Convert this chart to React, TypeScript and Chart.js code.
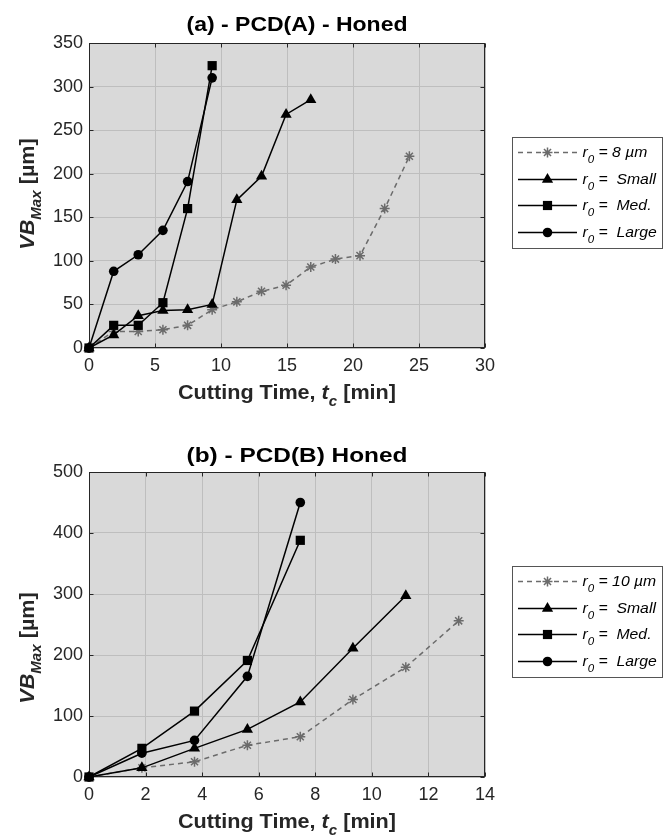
import React, { useEffect, useRef } from 'react';
import { Chart, registerables } from 'chart.js';

Chart.register(...registerables);

// ---------- Data ----------
const timesA = [0, 1.87, 3.73, 5.6, 7.47, 9.33, 11.2, 13.07, 14.93, 16.8, 18.67, 20.53, 22.4, 24.27];
const aR8um = [0, 19, 19, 21, 26, 44, 53, 65, 72, 93, 102, 106, 160, 220];
const aSmall = [0, 15, 37, 43, 44, 50, 170, 197, 268, 285];
const aMed = [0, 26, 26, 52, 160, 324];
const aLarge = [0, 88, 107, 135, 191, 310];

const timesB = [0, 1.87, 3.73, 5.6, 7.47, 9.33, 11.2, 13.07];
const bR10um = [0, 15, 25, 52, 66, 127, 180, 256];
const bSmall = [0, 15, 47, 78, 123, 211, 297];
const bMed = [0, 47, 108, 191, 388];
const bLarge = [0, 39, 60, 165, 450];

const titleA = '(a) - PCD(A) - Honed';
const titleB = '(b) - PCD(B) Honed';
const legendA = ['= 8 µm', '=  Small', '=  Med.', '=  Large'];
const legendB = ['= 10 µm', '=  Small', '=  Med.', '=  Large'];

// ---------- Styles ----------
const FONT = "'Liberation Sans', Arial, Helvetica, sans-serif";
const GRAY = '#6b6b6b';
const AXIS = '#262626';
const BG = '#d9d9d9';
const GRID = 'rgb(190,190,190)';

type Run = { t: string; font: string; dy?: number };

function drawRuns(ctx: CanvasRenderingContext2D, runs: Run[], x: number, y: number, align: 'left' | 'center', sx = 1, color = '#000') {
  let total = 0;
  const widths = runs.map((r) => {
    ctx.font = r.font;
    const w = ctx.measureText(r.t).width;
    total += w;
    return w;
  });
  ctx.save();
  ctx.translate(x, y);
  ctx.scale(sx, 1);
  ctx.fillStyle = color;
  ctx.textAlign = 'left';
  ctx.textBaseline = 'alphabetic';
  let cx = align === 'center' ? -total / 2 : 0;
  runs.forEach((r, i) => {
    ctx.font = r.font;
    ctx.fillText(r.t, cx, r.dy || 0);
    cx += widths[i];
  });
  ctx.restore();
}

function drawMarker(ctx: CanvasRenderingContext2D, style: string, x: number, y: number, color: string) {
  ctx.save();
  ctx.fillStyle = color;
  ctx.strokeStyle = color;
  ctx.setLineDash([]);
  ctx.beginPath();
  if (style === 'triangle') {
    const r = 6.5;
    for (let k = 0; k < 3; k++) {
      const a = (k * 2 * Math.PI) / 3;
      const px = x + Math.sin(a) * r;
      const py = y - Math.cos(a) * r;
      if (k === 0) ctx.moveTo(px, py);
      else ctx.lineTo(px, py);
    }
    ctx.closePath();
    ctx.fill();
  } else if (style === 'rect') {
    const s = Math.SQRT1_2 * 6.5;
    ctx.rect(x - s, y - s, 2 * s, 2 * s);
    ctx.fill();
  } else if (style === 'circle') {
    ctx.arc(x, y, 4.8, 0, Math.PI * 2);
    ctx.fill();
  } else if (style === 'star') {
    const r = 5;
    ctx.lineWidth = 1.5;
    for (let k = 0; k < 4; k++) {
      const a = (k * Math.PI) / 4;
      ctx.moveTo(x - Math.cos(a) * r, y - Math.sin(a) * r);
      ctx.lineTo(x + Math.cos(a) * r, y + Math.sin(a) * r);
    }
    ctx.stroke();
  }
  ctx.restore();
}

type PanelSpec = {
  times: number[];
  series: number[][];
  xMax: number;
  xStep: number;
  yMax: number;
  yStep: number;
  title: string;
  titleX: number;
  titleY: number;
  titleSx: number;
  xTitleY: number;
  yTitleCenter: number;
  legend: string[];
  legendTop: number;
  padTop: number;
  xAxisHeight: number;
};

function makePoints(times: number[], vals: number[]) {
  return vals.map((v, i) => ({ x: times[i], y: v }));
}

function makeChart(canvas: HTMLCanvasElement, p: PanelSpec) {
  const styles = ['star', 'triangle', 'rect', 'circle'];
  const datasets = p.series.map((vals, i) => {
    const isGray = i === 0;
    const col = isGray ? GRAY : '#000';
    return {
      label: p.legend[i],
      data: makePoints(p.times, vals),
      borderColor: col,
      backgroundColor: col,
      borderWidth: 1.5,
      borderDash: isGray ? [5, 4] : [],
      pointStyle: styles[i],
      pointRadius: isGray ? 5 : i === 3 ? 4.8 : 6.5,
      pointBorderWidth: isGray ? 1.5 : 0,
      pointBackgroundColor: col,
      pointBorderColor: col,
      tension: 0,
      clip: false as any,
      order: 4 - i,
    };
  });

  const panelPlugin = {
    id: 'panelDecor',
    beforeDraw(chart: any) {
      const { ctx, chartArea: a } = chart;
      ctx.save();
      ctx.fillStyle = BG;
      ctx.fillRect(a.left, a.top, a.right - a.left, a.bottom - a.top);
      ctx.restore();
    },
    beforeDatasetsDraw(chart: any) {
      const { ctx, chartArea: a, scales } = chart;
      ctx.save();
      ctx.strokeStyle = AXIS;
      ctx.lineWidth = 1;
      const L = Math.round(a.left) + 0.5;
      const R = Math.round(a.right) - 0.5;
      const T = Math.round(a.top) + 0.5;
      const B = Math.round(a.bottom) - 0.5;
      ctx.strokeRect(L, T, R - L, B - T);
      const tl = 4;
      ctx.beginPath();
      scales.x.ticks.forEach((t: any) => {
        const px = Math.round(scales.x.getPixelForValue(t.value)) + 0.5;
        ctx.moveTo(px, B);
        ctx.lineTo(px, B - tl);
        ctx.moveTo(px, T);
        ctx.lineTo(px, T + tl);
      });
      scales.y.ticks.forEach((t: any) => {
        const py = Math.round(scales.y.getPixelForValue(t.value)) + 0.5;
        ctx.moveTo(L, py);
        ctx.lineTo(L + tl, py);
        ctx.moveTo(R, py);
        ctx.lineTo(R - tl, py);
      });
      ctx.stroke();
      ctx.restore();
    },
    afterDraw(chart: any) {
      const { ctx, chartArea: a } = chart;
      const cx = (a.left + a.right) / 2;
      // Title
      drawRuns(ctx, [{ t: p.title, font: `bold 20px ${FONT}` }], p.titleX, p.titleY, 'center', p.titleSx, '#000');
      // X title
      drawRuns(
        ctx,
        [
          { t: 'Cutting Time, ', font: `bold 20px ${FONT}` },
          { t: 't', font: `italic bold 20px ${FONT}` },
          { t: 'c', font: `italic bold 14px ${FONT}`, dy: 7 },
          { t: ' [min]', font: `bold 20px ${FONT}` },
        ],
        cx,
        p.xTitleY,
        'center',
        1.08,
        AXIS
      );
      // Y title (rotated)
      ctx.save();
      ctx.translate(34, p.yTitleCenter);
      ctx.rotate(-Math.PI / 2);
      drawRuns(
        ctx,
        [
          { t: 'VB', font: `italic bold 20px ${FONT}` },
          { t: 'Max', font: `italic bold 14px ${FONT}`, dy: 7 },
          { t: ' [µm]', font: `bold 20px ${FONT}` },
        ],
        0,
        0,
        'center',
        1.08,
        AXIS
      );
      ctx.restore();
      // Legend
      const bx = 512.5;
      const bw = 150;
      const by = p.legendTop + 0.5;
      const bh = 111;
      ctx.save();
      ctx.fillStyle = '#fff';
      ctx.fillRect(bx, by, bw, bh);
      ctx.strokeStyle = '#555';
      ctx.lineWidth = 1;
      ctx.strokeRect(bx, by, bw, bh);
      ctx.restore();
      for (let i = 0; i < 4; i++) {
        const ry = Math.round(p.legendTop + 15 + i * 26.7) + 0.5;
        const col = i === 0 ? GRAY : '#000';
        ctx.save();
        ctx.strokeStyle = col;
        ctx.lineWidth = 1.5;
        ctx.setLineDash(i === 0 ? [5, 4] : []);
        ctx.beginPath();
        ctx.moveTo(518, ry);
        ctx.lineTo(577, ry);
        ctx.stroke();
        ctx.restore();
        drawMarker(ctx, styles[i], 547.5, ry, col);
        drawRuns(
          ctx,
          [
            { t: 'r', font: `italic 15px ${FONT}` },
            { t: '0', font: `italic 11px ${FONT}`, dy: 6 },
            { t: ' ' + p.legend[i], font: `italic 15px ${FONT}` },
          ],
          582.5,
          ry + 4,
          'left',
          1.05,
          '#000'
        );
      }
    },
  };

  return new Chart(canvas, {
    type: 'line',
    data: { datasets: datasets as any },
    options: {
      responsive: false,
      animation: false,
      devicePixelRatio: 1,
      layout: { padding: { top: p.padTop, right: 184, left: 0, bottom: 0 } },
      plugins: { legend: { display: false }, tooltip: { enabled: false }, title: { display: false } },
      scales: {
        x: {
          type: 'linear',
          min: 0,
          max: p.xMax,
          afterFit: (s: any) => {
            s.height = p.xAxisHeight;
          },
          ticks: {
            stepSize: p.xStep,
            maxRotation: 0,
            autoSkip: false,
            padding: 7,
            color: AXIS,
            font: { family: FONT, size: 18 },
          },
          grid: { color: GRID, drawTicks: false, lineWidth: 1 },
          border: { display: false },
        },
        y: {
          type: 'linear',
          min: 0,
          max: p.yMax,
          afterFit: (s: any) => {
            s.width = 89;
          },
          ticks: {
            stepSize: p.yStep,
            padding: 6,
            color: AXIS,
            font: { family: FONT, size: 18 },
          },
          grid: { color: GRID, drawTicks: false, lineWidth: 1 },
          border: { display: false },
        },
      },
    },
    plugins: [panelPlugin],
  });
}

const panelA: PanelSpec = {
  times: timesA,
  series: [aR8um, aSmall, aMed, aLarge],
  xMax: 30,
  xStep: 5,
  yMax: 350,
  yStep: 50,
  title: titleA,
  titleX: 297,
  titleY: 31,
  titleSx: 1.15,
  xTitleY: 399,
  yTitleCenter: 194,
  legend: legendA,
  legendTop: 137,
  padTop: 43,
  xAxisHeight: 72,
};

const panelB: PanelSpec = {
  times: timesB,
  series: [bR10um, bSmall, bMed, bLarge],
  xMax: 14,
  xStep: 2,
  yMax: 500,
  yStep: 100,
  title: titleB,
  titleX: 297,
  titleY: 42,
  titleSx: 1.22,
  xTitleY: 408,
  yTitleCenter: 228,
  legend: legendB,
  legendTop: 146,
  padTop: 52,
  xAxisHeight: 63,
};

function Panel({ spec }: { spec: PanelSpec }) {
  const ref = useRef<HTMLCanvasElement>(null);
  useEffect(() => {
    if (!ref.current) return;
    const c = makeChart(ref.current, spec);
    return () => c.destroy();
  }, [spec]);
  return <canvas ref={ref} width={669} height={420} style={{ display: 'block', width: 669, height: 420 }} />;
}

export default function App() {
  return (
    <div style={{ position: 'absolute', left: 0, top: 0, width: 669, height: 840, background: '#fff' }}>
      <Panel spec={panelA} />
      <Panel spec={panelB} />
    </div>
  );
}
